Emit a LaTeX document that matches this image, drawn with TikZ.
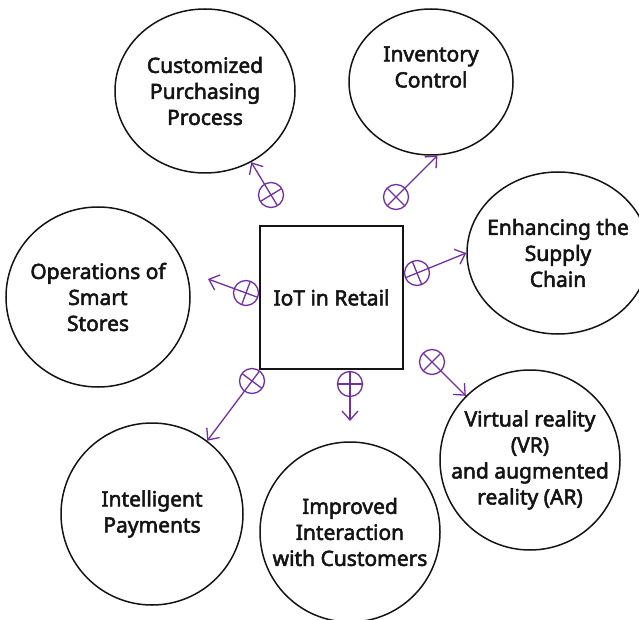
\documentclass[tikz,border=0pt]{standalone}
\usepackage{fontspec}
\setmainfont[FakeBold=2.6]{Noto Sans}
\usetikzlibrary{shapes.geometric,arrows.meta,calc}
\definecolor{linkpurple}{RGB}{112,48,160}
\definecolor{inkblack}{RGB}{20,20,20}

% marker circle with a cross aligned to the link, then an arrow to the target
\newcommand{\flowlink}[2]{%
  \draw[bar] ($(#1)!12pt!90:(#2)$) -- ($(#1)!12pt!-90:(#2)$);
  \draw[link] ($(#1)!12pt!180:(#2)$) -- (#2);
}

\begin{document}
\begin{tikzpicture}[x=1pt,y=-1pt,
  topic/.style={draw=inkblack,line width=1.5pt,ellipse,inner sep=0pt},
  caption/.style={align=center,inner sep=0pt,text=inkblack,font=\fontsize{21}{26}\selectfont},
  hub/.style={draw=inkblack,line width=1.5pt,rectangle,minimum width=143pt,minimum height=143pt,inner sep=0pt,text=inkblack,font=\fontsize{21}{26}\selectfont},
  marker/.style={draw=linkpurple,line width=1.3pt,circle,minimum size=25pt,inner sep=0pt},
  link/.style={draw=linkpurple,line width=1.3pt,-{Straight Barb[length=9pt,width=16pt]}},
  bar/.style={draw=linkpurple,line width=1.3pt},
]
\useasboundingbox (0,0) rectangle (639,620);

% central block
\node[hub] (hub) at (331.5,297.5) {IoT in Retail};

% surrounding topics
\node[topic,minimum width=180pt,minimum height=164pt] (cust)   at (205,91)  {};
\node[topic,minimum width=164pt,minimum height=146pt] (inv)    at (431,82)  {};
\node[topic,minimum width=182pt,minimum height=162pt] (supply) at (558,253) {};
\node[topic,minimum width=184pt,minimum height=180pt] (ops)    at (98,297)  {};
\node[topic,minimum width=180pt,minimum height=180pt] (vr)     at (530,460) {};
\node[topic,minimum width=180pt,minimum height=180pt] (impr)   at (350,532) {};
\node[topic,minimum width=182pt,minimum height=182pt] (pay)    at (152,514) {};

\node[caption] (custtext)   at (cust)      {Customized\\Purchasing\\Process};
\node[caption] (invtext)    at (431,67)    {Inventory\\Control};
\node[caption] (supplytext) at (supply)    {Enhancing the\\Supply\\Chain};
\node[caption] (opstext)    at (ops)       {Operations of\\Smart\\Stores};
\node[caption] (vrtext)     at (vr)        {Virtual reality\\(VR)\\and augmented\\reality (AR)};
\node[caption] (imprtext)   at (impr)      {Improved\\Interaction\\with Customers};
\node[caption] (paytext)    at (pay)       {Intelligent\\Payments};

% link markers
\node[marker] (m1) at (271,195) {};
\node[marker] (m2) at (396,197) {};
\node[marker] (m3) at (417,273) {};
\node[marker] (m4) at (246,293) {};
\node[marker] (m5) at (252,381) {};
\node[marker] (m6) at (350,384) {};
\node[marker] (m7) at (432,362) {};

% free arrow ends
\coordinate (t4) at (208,279);
\coordinate (t6) at (350,421);

\flowlink{m1}{cust.-57}
\flowlink{m2}{inv.-85}
\flowlink{m3}{supply.180}
\flowlink{m4}{t4}
\flowlink{m5}{pay.53}
\flowlink{m6}{t6}
\flowlink{m7}{vr.135}
\end{tikzpicture}
\end{document}
